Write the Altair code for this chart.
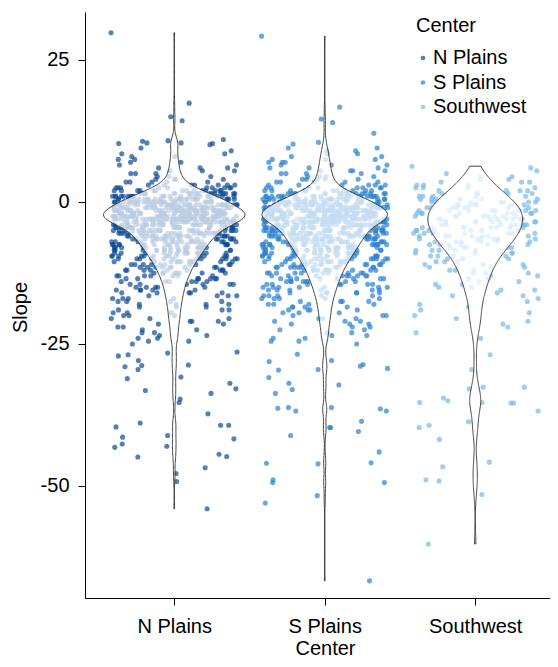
import json
import altair as alt
import pandas as pd

centers = ["N Plains", "S Plains", "Southwest"]
point_colors = ["#0d4a96", "#2b80d0", "#77b8ea"]

# Slope values on a 0.5 grid (dense part of each cloud) ...
slope_grid = [9.5, 9.0, 8.5, 8.0, 7.5, 7.0, 6.5, 6.0, 5.5, 5.0,
              4.5, 4.0, 3.5, 3.0, 2.5, 2.0, 1.5, 1.0, 0.5, 0.0,
              -0.5, -1.0, -1.5, -2.0, -2.5, -3.0, -3.5, -4.0, -4.5, -5.0,
              -5.5, -6.0, -6.5, -7.0, -7.5, -8.0, -8.5, -9.0, -9.5, -10.0,
              -10.5, -11.0, -11.5, -12.0, -12.5, -13.0, -13.5, -14.0, -14.5, -15.0,
              -15.5, -16.0, -16.5, -17.0, -17.5, -18.0, -18.5, -19.0, -19.5, -20.0,
              -20.5, -21.0, -21.5, -22.0, -22.5, -23.0, -23.5, -24.0, -24.5, -25.0]
# ... and how many points sit at each grid value
n_plains_counts = [1, 1, 2, 2, 2, 2, 2, 3, 3, 3,
                   3, 4, 5, 7, 10, 14, 18, 22, 26, 28,
                   30, 32, 35, 39, 42, 38, 32, 28, 25, 23,
                   22, 20, 19, 18, 17, 16, 15, 14, 13, 12,
                   11, 10, 9, 9, 8, 7, 7, 6, 6, 5,
                   5, 5, 4, 4, 4, 4, 3, 3, 3, 3,
                   3, 3, 2, 2, 2, 2, 2, 2, 2, 1]
s_plains_counts = [2, 2, 2, 2, 3, 3, 3, 3, 4, 4,
                   4, 5, 5, 6, 8, 11, 16, 20, 24, 27,
                   29, 32, 35, 38, 40, 35, 31, 27, 25, 24,
                   23, 22, 21, 20, 19, 18, 17, 16, 15, 14,
                   13, 12, 11, 10, 10, 9, 8, 8, 7, 7,
                   6, 6, 5, 5, 4, 4, 4, 4, 3, 3,
                   3, 3, 3, 2, 2, 2, 2, 2, 2, 1]
southwest_counts = [0, 0, 0, 0, 0, 0, 0, 1, 1, 1,
                    2, 2, 3, 3, 4, 4, 5, 5, 6, 7,
                    7, 8, 8, 8, 8, 8, 8, 8, 8, 7,
                    7, 7, 7, 6, 6, 5, 5, 4, 4, 4,
                    3, 3, 3, 3, 3, 2, 2, 2, 2, 2,
                    2, 1, 2, 1, 1, 1, 1, 1, 1, 1,
                    1, 1, 1, 1, 0, 1, 0, 1, 0, 0]
# individual outlying points
n_plains_extra = [29.8, 17.4, 15.0, 14.3, 11.0, 10.8, 10.7, 10.4, 10.4, 10.3, 10.3, 10.1,
                  -26.4, -26.6, -26.9, -27.1, -27.9, -28.7, -28.8, -29.0, -29.5, -30.8,
                  -31.1, -31.9, -32.9, -33.2, -33.7, -34.7, -35.3, -37.3, -38.9, -39.3,
                  -39.3, -39.6, -41.1, -41.4, -41.7, -42.6, -43.0, -43.2, -44.4, -44.8,
                  -44.9, -46.8, -47.8, -49.2, -54.0]
s_plains_extra = [29.2, 16.7, 14.6, 14.0, 12.1, 10.5, 10.2,
                  -26.8, -27.9, -28.1, -28.6, -28.9, -29.3, -29.5, -29.6, -30.9, -31.9,
                  -32.2, -33.0, -33.7, -36.2, -36.2, -36.3, -36.4, -36.8, -36.8, -38.6,
                  -39.7, -39.7, -40.4, -41.1, -44.0, -45.9, -46.0, -46.1, -48.9, -49.4,
                  -49.4, -51.7, -53.0, -66.7]
southwest_extra = [6.3, -26.9, -29.5, -32.6, -32.6, -32.9, -34.5, -35.0, -35.3, -35.3,
                   -35.4, -35.4, -36.8, -38.7, -39.3, -39.7, -41.8, -45.8, -46.6, -48.9,
                   -49.1, -51.5, -60.2]

y_ticks = [-50, -25, 0, 25]

# violin drawing settings (style, not data)
violin_bandwidth = [1.1, 1.1, 1.8]
violin_scale = [5.5, 5.2, 5.0]

rows = []
for center, counts, extra in zip(
        centers,
        [n_plains_counts, s_plains_counts, southwest_counts],
        [n_plains_extra, s_plains_extra, southwest_extra]):
    values = list(extra)
    for v, c in zip(slope_grid, counts):
        values += [v] * c
    for k, v in enumerate(values):
        rows.append({"Center": center, "Slope": v, "k": k})
df = pd.DataFrame(rows)

FONT = "Liberation Sans"
FS = 20
cjs = json.dumps(centers)

xscale = alt.Scale(domain=[-0.593, 2.497], nice=False, zero=False)
yscale = alt.Scale(domain=[-69.72, 33.45], nice=False, zero=False)

xaxis = alt.Axis(values=[0, 1, 2], labelExpr=f"{cjs}[datum.value]", title="Center",
                 grid=False, tickSize=7, labelPadding=27, labelBaseline="alphabetic",
                 labelFontSize=FS, titleFontSize=FS, titleFontWeight="normal",
                 titleX=240, titleY=56, titleBaseline="alphabetic",
                 domainColor="black", tickColor="black", labelColor="black",
                 titleColor="black", labelFont=FONT, titleFont=FONT)
yaxis = alt.Axis(values=y_ticks, labelExpr="'' + datum.value", title="Slope",
                 grid=False, tickSize=7, labelPadding=9,
                 labelFontSize=FS, titleFontSize=FS, titleFontWeight="normal",
                 titleX=-59, titleY=295, titleBaseline="alphabetic",
                 domainColor="black", tickColor="black", labelColor="black",
                 titleColor="black", labelFont=FONT, titleFont=FONT)

points = alt.Chart(df).transform_calculate(
    xj=f"indexof({cjs}, datum.Center) + 0.84 * ((datum.k * datum.k * 0.6180339887) % 1 - 0.5)"
).mark_circle(size=26, opacity=0.7).encode(
    x=alt.X("xj:Q", scale=xscale, axis=xaxis),
    y=alt.Y("Slope:Q", scale=yscale, axis=yaxis),
    color=alt.Color("Center:N", scale=alt.Scale(domain=centers, range=point_colors),
                    legend=alt.Legend(orient="none", legendX=331, legendY=4,
                                      title="Center", titleFontSize=FS,
                                      titleFontWeight="normal", titleFont=FONT,
                                      labelFont=FONT, labelFontSize=FS,
                                      titleColor="black", labelColor="black",
                                      symbolType="circle", symbolSize=22,
                                      symbolStrokeWidth=0, symbolOffset=-3,
                                      titlePadding=12, rowPadding=4.5,
                                      labelOffset=0, padding=0)),
)

layers = [points]
for i, center in enumerate(centers):
    s = violin_scale[i]
    v = alt.Chart(df).transform_filter(
        alt.datum.Center == center
    ).transform_density(
        "Slope", as_=["Slope", "density"], bandwidth=violin_bandwidth[i], steps=400
    ).transform_calculate(
        xl=f"{i} - datum.density * {s}",
        xr=f"{i} + datum.density * {s}",
    ).mark_area(orient="horizontal", fill="white", fillOpacity=0.72,
                stroke="#2e2e2e", strokeWidth=0.9).encode(
        y=alt.Y("Slope:Q", scale=yscale, axis=yaxis),
        x=alt.X("xl:Q", scale=xscale, axis=xaxis),
        x2="xr:Q",
    )
    layers.append(v)

chart = alt.layer(*layers).properties(
    width=465, height=586,
    autosize=alt.AutoSizeParams(type="none"),
    padding={"left": 77, "top": 4, "right": 0, "bottom": 61},
).configure_view(stroke=None)

chart.save("out.html", embed_options={"renderer": "svg", "actions": False})
